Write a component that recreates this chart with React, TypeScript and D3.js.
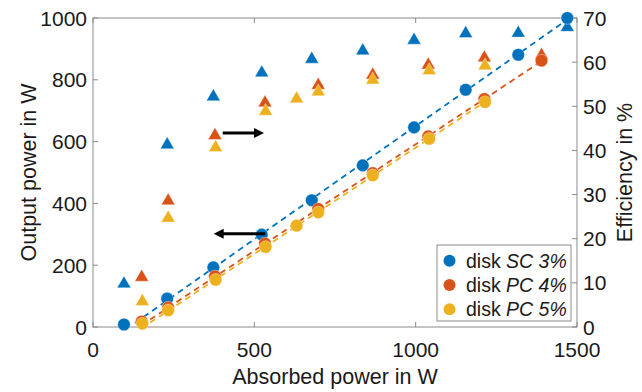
import React, { useRef, useEffect } from "react";
import * as d3 from "d3";

// absorbed power (W), output power (W) and efficiency (%) per disk
const scAbsorbed = [96, 230, 373, 523, 678, 836, 995, 1155, 1318, 1470];
const scOutput = [8, 92, 193, 299, 410, 523, 646, 768, 881, 1000];
const scEff = [10.0, 41.5, 52.4, 57.8, 60.9, 62.8, 65.2, 66.7, 66.8, 68.1];

const pc4Absorbed = [151, 233, 378, 533, 698, 867, 1039, 1213, 1390];
const pc4Output = [18, 63, 164, 270, 382, 498, 617, 738, 862];
const pc4Eff = [11.5, 28.8, 43.6, 51.0, 55.0, 57.3, 59.6, 61.2, 61.8];

const pc5Absorbed = [153, 233, 380, 535, 631, 698, 867, 1042, 1215];
const pc5Output = [11, 54, 153, 259, 328, 371, 491, 609, 728];
const pc5Eff = [6.0, 24.9, 40.9, 49.1, 51.9, 53.5, 56.2, 58.3, 59.4];

const seriesNames = ["SC 3%", "PC 4%", "PC 5%"];
const seriesColors = ["#0072BD", "#D95319", "#EDB120"];
// linear fits start at this absorbed power (first point below threshold is left out)
const fitStart = [130, 150, 150];

const xTicks = [0, 500, 1000, 1500];
const yTicks = [0, 200, 400, 600, 800, 1000];
const effTicks = [0, 10, 20, 30, 40, 50, 60, 70];

// arrows: [x0, x1, output power]
const arrows = [
  [402, 530, 628],
  [534, 374, 302],
];

const App: React.FC = () => {
  const ref = useRef<SVGSVGElement | null>(null);

  useEffect(() => {
    const width = 642;
    const height = 392;
    const m = { left: 93, right: 577, top: 18, bottom: 327 };
    const font = "'Liberation Sans', Arial, sans-serif";
    const axisColor = "#8a8a8a";

    const svg = d3.select(ref.current);
    svg.selectAll("*").remove();
    svg.attr("width", width).attr("height", height).style("font-family", font);

    const x = d3.scaleLinear().domain([0, 1500]).range([m.left, m.right]);
    const y = d3.scaleLinear().domain([0, 1000]).range([m.bottom, m.top]);
    const yEff = d3.scaleLinear().domain([0, 70]).range([m.bottom, m.top]);

    svg.append("rect").attr("width", width).attr("height", height).attr("fill", "white");

    // axes box
    svg
      .append("rect")
      .attr("x", m.left)
      .attr("y", m.top)
      .attr("width", m.right - m.left)
      .attr("height", m.bottom - m.top)
      .attr("fill", "none")
      .attr("stroke", axisColor)
      .attr("stroke-width", 1);

    const tl = 5;
    const ticks = svg.append("g").attr("stroke", axisColor).attr("stroke-width", 1);
    xTicks.forEach((t) => {
      ticks.append("line").attr("x1", x(t)).attr("x2", x(t)).attr("y1", m.bottom).attr("y2", m.bottom - tl);
      ticks.append("line").attr("x1", x(t)).attr("x2", x(t)).attr("y1", m.top).attr("y2", m.top + tl);
    });
    yTicks.forEach((t) => {
      ticks.append("line").attr("x1", m.left).attr("x2", m.left + tl).attr("y1", y(t)).attr("y2", y(t));
    });
    effTicks.forEach((t) => {
      ticks.append("line").attr("x1", m.right).attr("x2", m.right - tl).attr("y1", yEff(t)).attr("y2", yEff(t));
    });

    const txt = svg.append("g").attr("fill", "#1a1a1a").style("font-size", "21px");
    xTicks.forEach((t) => {
      txt.append("text").attr("x", x(t)).attr("y", 357).attr("text-anchor", "middle").text(t);
    });
    yTicks.forEach((t) => {
      txt
        .append("text")
        .attr("x", m.left - 6)
        .attr("y", y(t) + 7.5)
        .attr("text-anchor", "end")
        .text(t);
    });
    effTicks.forEach((t) => {
      txt
        .append("text")
        .attr("x", m.right + 6)
        .attr("y", yEff(t) + 7.5)
        .attr("text-anchor", "start")
        .text(t);
    });

    txt
      .append("text")
      .attr("x", (m.left + m.right) / 2)
      .attr("y", 384)
      .attr("text-anchor", "middle")
      .style("font-size", "21.5px")
      .text("Absorbed power in W");
    txt
      .append("text")
      .attr("transform", `translate(36,${(m.top + m.bottom) / 2}) rotate(-90)`)
      .attr("text-anchor", "middle")
      .style("font-size", "21.5px")
      .text("Output power in W");
    txt
      .append("text")
      .attr("transform", `translate(632,${(m.top + m.bottom) / 2}) rotate(-90)`)
      .attr("text-anchor", "middle")
      .style("font-size", "21.5px")
      .text("Efficiency in %");

    const series = [
      { abs: scAbsorbed, out: scOutput, eff: scEff },
      { abs: pc4Absorbed, out: pc4Output, eff: pc4Eff },
      { abs: pc5Absorbed, out: pc5Output, eff: pc5Eff },
    ];

    // dashed linear fits of output power
    series.forEach((s, i) => {
      const xs = s.abs.slice(1);
      const ys = s.out.slice(1);
      const mx = d3.mean(xs)!;
      const my = d3.mean(ys)!;
      const slope =
        d3.sum(xs, (v, k) => (v - mx) * (ys[k] - my)) / d3.sum(xs, (v) => (v - mx) * (v - mx));
      const icpt = my - slope * mx;
      const x0 = fitStart[i];
      const x1 = s.abs[s.abs.length - 1];
      svg
        .append("line")
        .attr("x1", x(x0))
        .attr("y1", y(slope * x0 + icpt))
        .attr("x2", x(x1))
        .attr("y2", y(slope * x1 + icpt))
        .attr("stroke", seriesColors[i])
        .attr("stroke-width", 1.8)
        .attr("stroke-dasharray", "6,4.5");
    });

    const tri = d3.symbol().type(d3.symbolTriangle).size(82);

    series.forEach((s, i) => {
      const g = svg.append("g");
      s.abs.forEach((a, k) => {
        g.append("path")
          .attr("d", tri()!)
          .attr("transform", `translate(${x(a)},${yEff(s.eff[k]) + 1})`)
          .attr("fill", seriesColors[i])
          .attr("stroke", "white")
          .attr("stroke-opacity", 0.6)
          .attr("stroke-width", 0.6);
        g.append("circle")
          .attr("cx", x(a))
          .attr("cy", y(s.out[k]))
          .attr("r", 6.3)
          .attr("fill", seriesColors[i])
          .attr("stroke", "white")
          .attr("stroke-opacity", 0.6)
          .attr("stroke-width", 0.6);
      });
    });

    // arrows
    arrows.forEach(([a0, a1, p]) => {
      const dir = Math.sign(a1 - a0);
      const xe = x(a1);
      const yy = y(p);
      svg
        .append("line")
        .attr("x1", x(a0))
        .attr("x2", xe - dir * 8)
        .attr("y1", yy)
        .attr("y2", yy)
        .attr("stroke", "black")
        .attr("stroke-width", 3);
      svg
        .append("path")
        .attr("d", `M${xe},${yy}L${xe - dir * 10},${yy - 5}L${xe - dir * 10},${yy + 5}Z`)
        .attr("fill", "black");
    });

    // legend
    const lg = svg.append("g");
    lg.append("rect")
      .attr("x", 437)
      .attr("y", 245)
      .attr("width", 134)
      .attr("height", 76)
      .attr("fill", "white")
      .attr("stroke", axisColor)
      .attr("stroke-width", 1);
    seriesNames.forEach((name, i) => {
      const cy = 260.7 + i * 24.3;
      lg.append("circle").attr("cx", 449.5).attr("cy", cy).attr("r", 6).attr("fill", seriesColors[i]);
      const t = lg
        .append("text")
        .attr("x", 466)
        .attr("y", cy + 7)
        .attr("fill", "#1a1a1a")
        .style("font-size", "19.5px");
      t.append("tspan").text("disk ");
      t.append("tspan").attr("font-style", "italic").text(name);
    });
  }, []);

  return <svg ref={ref} style={{ position: "absolute", left: 0, top: 0 }}></svg>;
};

export default App;
